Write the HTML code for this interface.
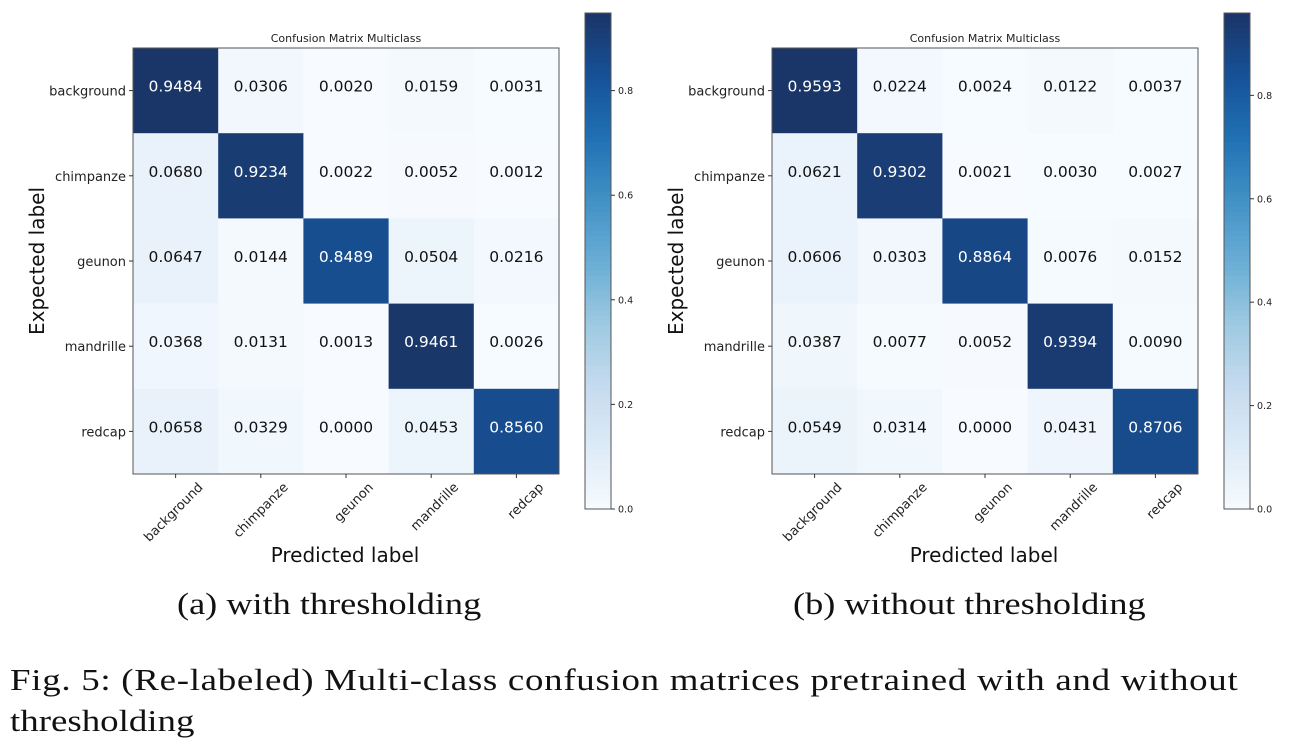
<!DOCTYPE html>
<html><head><meta charset="utf-8"><style>
body{margin:0;background:#fff;width:1290px;height:748px;overflow:hidden;}
svg text{font-family:"DejaVu Sans","Liberation Sans",sans-serif;}
.cap{position:absolute;font-family:"Liberation Serif",serif;color:#111;white-space:nowrap;transform-origin:0 0;}
</style></head><body>
<svg id="s" width="1290" height="748" style="position:absolute;left:0;top:0"></svg>
<div class="cap" style="left:177px;top:586px;font-size:31px;transform:scaleX(1.17);">(a) with thresholding</div>
<div class="cap" style="left:793px;top:586px;font-size:31px;transform:scaleX(1.17);">(b) without thresholding</div>
<div class="cap" style="left:10px;top:662px;font-size:31px;letter-spacing:0.6px;transform:scaleX(1.19);">Fig. 5: (Re-labeled) Multi-class confusion matrices pretrained with and without</div>
<div class="cap" style="left:10px;top:703px;font-size:31px;transform:scaleX(1.19);">thresholding</div>
<script>
const stops=[[247,251,255],[222,235,247],[198,219,239],[158,202,225],[107,174,214],[66,146,198],[33,113,181],[22,82,152],[26,54,105]];
function cm(t){t=Math.max(0,Math.min(1,t));const p=t*8,i=Math.min(7,Math.floor(p)),f=p-i;const a=stops[i],b=stops[i+1];
return `rgb(${a.map((v,k)=>Math.round(v+(b[k]-v)*f)).join(',')})`;}
const labels=["background","chimpanze","geunon","mandrille","redcap"];
const A=[[.9484,.0306,.0020,.0159,.0031],[.0680,.9234,.0022,.0052,.0012],[.0647,.0144,.8489,.0504,.0216],[.0368,.0131,.0013,.9461,.0026],[.0658,.0329,.0000,.0453,.8560]];
const B=[[.9593,.0224,.0024,.0122,.0037],[.0621,.9302,.0021,.0030,.0027],[.0606,.0303,.8864,.0076,.0152],[.0387,.0077,.0052,.9394,.0090],[.0549,.0314,.0000,.0431,.8706]];
let h='';
function plot(M,ox){
 const L=133+ox,T=48,S=85.2,mx=Math.max(...M.flat());
 h+=`<text x="${L+213}" y="42" font-size="11" text-anchor="middle" fill="#222">Confusion Matrix Multiclass</text>`;
 for(let r=0;r<5;r++)for(let c=0;c<5;c++){const v=M[r][c];
  h+=`<rect x="${L+c*S}" y="${T+r*S}" width="${S+0.5}" height="${S+0.5}" fill="${cm(v/mx)}"/>`;
  h+=`<text x="${L+c*S+S/2}" y="${T+r*S+S/2+1}" font-size="15.5" text-anchor="middle" fill="${v>mx/2?'#fff':'#111'}">${v.toFixed(4)}</text>`;}
 h+=`<rect x="${L}" y="${T}" width="${5*S}" height="${5*S}" fill="none" stroke="#555" stroke-width="1"/>`;
 for(let i=0;i<5;i++){const y=T+i*S+S/2,x=L+i*S+S/2;
  h+=`<line x1="${L-4}" x2="${L}" y1="${y}" y2="${y}" stroke="#333"/>`;
  h+=`<text x="${L-7}" y="${y+5}" font-size="13" text-anchor="end" fill="#222">${labels[i]}</text>`;
  h+=`<line x1="${x}" x2="${x}" y1="${T+5*S}" y2="${T+5*S+4}" stroke="#333"/>`;
  h+=`<text transform="translate(${x+28},${T+5*S+14}) rotate(-45)" font-size="13" text-anchor="end" fill="#222">${labels[i]}</text>`;}
 h+=`<text transform="translate(${44+ox},261) rotate(-90)" font-size="20" text-anchor="middle" fill="#111">Expected label</text>`;
 h+=`<text x="${345+ox}" y="562" font-size="20" text-anchor="middle" fill="#111">Predicted label</text>`;
 const cx=585+ox,cy0=13,cy1=509,n=100;
 const scale=(cy1-cy0)/mx;
 for(let i=0;i<n;i++){const y=cy0+(cy1-cy0)*i/n;h+=`<rect x="${cx}" y="${y}" width="26" height="${(cy1-cy0)/n+0.6}" fill="${cm(1-i/n)}"/>`;}
 h+=`<rect x="${cx}" y="${cy0}" width="26" height="${cy1-cy0}" fill="none" stroke="#555"/>`;
 for(let k=0;k<=4;k++){const v=k*0.2,y=cy1-v*scale;
  h+=`<line x1="${cx+26}" x2="${cx+30}" y1="${y}" y2="${y}" stroke="#333"/>`;
  h+=`<text x="${cx+33}" y="${y+3.5}" font-size="9.5" fill="#222">${v.toFixed(1)}</text>`;}
}
plot(A,0);plot(B,639);
document.getElementById('s').innerHTML=h;
</script>
</body></html>
